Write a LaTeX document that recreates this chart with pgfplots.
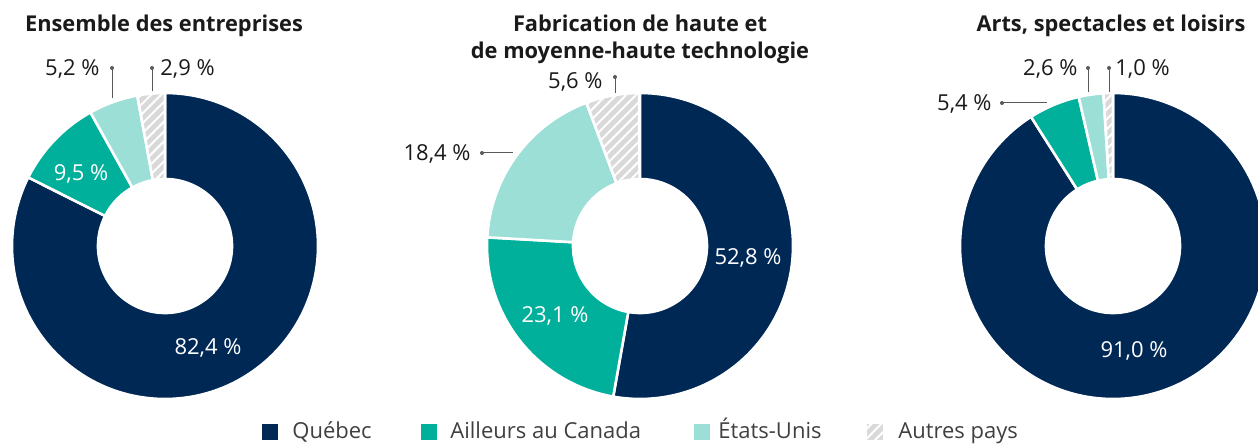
\documentclass[border=0pt]{standalone}
\usepackage{fontspec}
\setmainfont{Open Sans}
\usepackage{pgfplots}
\pgfplotsset{compat=1.18}
\usepackage{pgfplotstable}
\usetikzlibrary{calc,patterns.meta}

\definecolor{cQc}{RGB}{0,40,85}
\definecolor{cCa}{RGB}{0,176,155}
\definecolor{cUs}{RGB}{155,223,215}
\definecolor{cAu}{RGB}{217,217,217}
\definecolor{cLd}{RGB}{89,89,89}
\definecolor{cTx}{RGB}{26,26,26}

% shares (%) by destination, one column per donut
\pgfplotstableread{
cat ensemble fabrication arts
Quebec 82.4 52.8 91.0
Ailleurs 9.5 23.1 5.4
EtatsUnis 5.2 18.4 2.6
Autres 2.9 5.6 1.0
}\parts

\newcommand\Ro{76.5pt}
\newcommand\Ri{33.5pt}
\tikzset{hatch/.style={fill=cAu,postaction={pattern={Lines[angle=45,distance=3.5pt,line width=1pt]},pattern color=white}}}

% one ring slice: cx, cy, start angle, end angle, style
\newcommand\slice[5]{%
  \path[#5] ($(axis cs:#1,#2)+(#3:\Ro)$) arc[start angle=#3,end angle=#4,radius=\Ro]
    -- ($(axis cs:#1,#2)+(#4:\Ri)$) arc[start angle=#4,end angle=#3,radius=\Ri] -- cycle;}

% whole donut, clockwise from the top: column, cx, cy
\newcommand\donut[3]{%
  \xdef\dcum{0}%
  \foreach \i/\c in {0/cQc,1/cCa,2/cUs,3/cAu}{%
    \pgfplotstablegetelem{\i}{#1}\of{\parts}%
    \pgfmathsetmacro\aS{90-3.6*\dcum}%
    \pgfmathsetmacro\ncum{\dcum+\pgfplotsretval}%
    \pgfmathsetmacro\aE{90-3.6*\ncum}%
    \xdef\dcum{\ncum}%
    \ifnum\i=3
      \slice{#2}{#3}{\aS}{\aE}{hatch}%
    \else
      \slice{#2}{#3}{\aS}{\aE}{fill=\c}%
    \fi
    \slice{#2}{#3}{\aS}{\aE}{draw=white,line width=1.3pt}%
  }}

\tikzset{
  lab/.style={font=\fontsize{11}{13}\selectfont,text=cTx,inner sep=0pt},
  inlab/.style={font=\fontsize{11}{13}\selectfont,text=white,inner sep=0pt,anchor=base},
  ttl/.style={font=\fontsize{10.9}{13}\selectfont\bfseries,text=cTx,inner sep=0pt,anchor=base},
  lead/.style={cLd,line width=0.5pt},
  leg/.style={font=\fontsize{11}{13}\selectfont,text=black!75,inner sep=0pt,anchor=base west},
}
\newcommand\leader[4]{%
  \draw[lead] (axis cs:#1,#2) -- (axis cs:#3,#4);
  \fill[cLd] (axis cs:#1,#2) circle[radius=1pt];}

\begin{document}
\begin{tikzpicture}
\begin{axis}[x=0.5pt,y=0.5pt,xmin=0,xmax=1258,ymin=0,ymax=444,
  hide axis,clip=false]
\coordinate (bl) at (axis cs:0,0);
\coordinate (tr) at (axis cs:1258,444);
\pgfplotsextra{\donut{ensemble}{165}{198}}
\pgfplotsextra{\donut{fabrication}{640}{198}}
\pgfplotsextra{\donut{arts}{1113}{198}}

% titles
\node[ttl] at (axis cs:164,412.5) {Ensemble des entreprises};
\node[ttl] at (axis cs:640,412.5) {Fabrication de haute et};
\node[ttl] at (axis cs:640,385.7) {de moyenne-haute technologie};
\node[ttl] at (axis cs:1111,412.5) {Arts, spectacles et loisirs};

% labels, first donut
\node[inlab] at (axis cs:208,89) {82,4 \%};
\node[inlab] at (axis cs:81,263.5) {9,5 \%};
\node[lab,anchor=base east] at (axis cs:100,368.5) {5,2 \%};
\node[lab,anchor=base west] at (axis cs:160,368.5) {2,9 \%};
\leader{112}{376}{112}{346}
\leader{152}{376}{152}{353}

% labels, second donut
\node[inlab] at (axis cs:748,179.5) {52,8 \%};
\node[inlab] at (axis cs:555,121.5) {23,1 \%};
\node[lab,anchor=base east] at (axis cs:471,283.5) {18,4 \%};
\node[lab,anchor=base east] at (axis cs:603,355.5) {5,6 \%};
\leader{482}{291}{513}{291}
\leader{615}{367}{615}{351}

% labels, third donut
\node[inlab] at (axis cs:1134,86.5) {91,0 \%};
\node[lab,anchor=base east] at (axis cs:992,333.5) {5,4 \%};
\node[lab,anchor=base east] at (axis cs:1078,368.5) {2,6 \%};
\node[lab,anchor=base west] at (axis cs:1115,368.5) {1,0 \%};
\leader{1002}{341}{1047}{341}
\leader{1088}{376}{1088}{352}
\leader{1109}{376}{1109}{352}

% legend
\fill[cQc] (axis cs:262,4) rectangle (axis cs:278,20);
\node[leg] at (axis cs:292,5) {Québec};
\fill[cCa] (axis cs:421,4) rectangle (axis cs:437,20);
\node[leg] at (axis cs:450,5) {Ailleurs au Canada};
\fill[cUs] (axis cs:694,4) rectangle (axis cs:710,20);
\node[leg] at (axis cs:718,5) {États-Unis};
\path[hatch] (axis cs:867,4) rectangle (axis cs:883,20);
\node[leg] at (axis cs:898,5) {Autres pays};
\end{axis}
\pgfresetboundingbox
\path[use as bounding box] (bl) rectangle (tr);
\end{tikzpicture}
\end{document}
